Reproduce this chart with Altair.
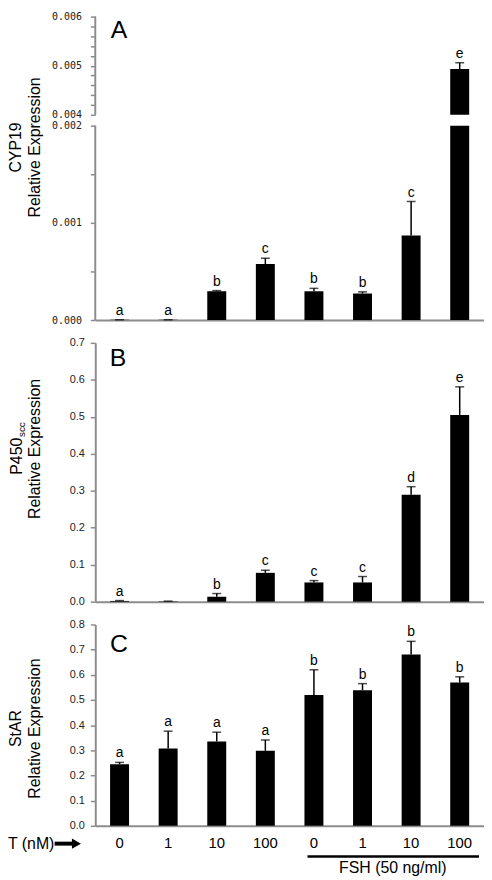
import altair as alt
import pandas as pd

# ---------------- data ----------------
treat_labels = ["0", "1", "10", "100", "0", "1", "10", "100"]

cyp19 = [0.000003, 0.000003, 0.000295, 0.000576, 0.000296, 0.000273, 0.000870, 0.004930]
cyp19_err = [0.0, 0.0, 0.000008, 0.000060, 0.000030, 0.000017, 0.000350, 0.000130]
cyp19_sig = ["a", "a", "b", "c", "b", "b", "c", "e"]

p450 = [0.002, 0.001, 0.013, 0.078, 0.052, 0.052, 0.289, 0.505]
p450_err = [0.001, 0.0005, 0.009, 0.007, 0.005, 0.016, 0.022, 0.076]
p450_sig = ["a", "", "b", "c", "c", "c", "d", "e"]

star = [0.245, 0.307, 0.335, 0.298, 0.520, 0.539, 0.681, 0.569]
star_err = [0.007, 0.069, 0.037, 0.043, 0.100, 0.026, 0.052, 0.023]
star_sig = ["a", "a", "a", "a", "b", "b", "b", "b"]

# broken axis of panel A: lower segment 0-0.002, upper segment 0.004-0.006
a_breaks = [0.0, 0.002, 0.004, 0.006]
a_ticks = [0.0, 0.0005, 0.001, 0.0015, 0.002] + [round(0.004 + 0.0002 * k, 4) for k in range(11)]
b_ticks = [round(0.1 * k, 1) for k in range(8)]
c_ticks = [round(0.1 * k, 1) for k in range(9)]

# ---------------- style ----------------
GRAY = "#8c8c8c"
FONT = "Liberation Sans"
W = 392
H_A, H_B, H_C = 306, 261, 203
A_RANGE = [H_A, 110, 99, 0]

xscale = alt.Scale(paddingInner=0.61, paddingOuter=0.305)
label_expr = "[" + ",".join("'%s'" % s for s in treat_labels) + "][datum.value]"
a_label_expr = ("abs(datum.value*1000 - round(datum.value*1000)) < 0.01 ? "
                "format(datum.value, '.3f') : ''")


def make_df(vals, errs, sigs):
    return pd.DataFrame({"idx": list(range(len(vals))), "val": vals,
                         "err": errs, "sig": sigs})


def one():
    return pd.DataFrame({"k": [0]})


def txt(text, x, y, size, angle=0, align="center", baseline="middle", font=FONT):
    return alt.Chart(pd.DataFrame({"t": [text]})).mark_text(
        font=font, fontSize=size, angle=angle, align=align, baseline=baseline,
        color="black").encode(text="t:N", x=alt.value(x), y=alt.value(y))


def bar_layers(df, yscale, yaxis, xaxis):
    base = alt.Chart(df).transform_calculate(hi="datum.val + datum.err")
    x = alt.X("idx:O", scale=xscale, axis=xaxis, title=None)
    y = alt.Y("val:Q", scale=yscale, axis=yaxis, title=None)
    yhi = alt.Y("hi:Q", scale=yscale, axis=yaxis, title=None)
    bars = base.mark_bar(color="black").encode(x=x, y=y)
    rule = base.mark_rule(color="black", strokeWidth=1.5).encode(
        x=x, y=y, y2=alt.Y2("hi:Q"))
    cap = base.mark_tick(color="black", thickness=1.5, size=9).encode(x=x, y=yhi)
    lab = base.mark_text(font=FONT, fontSize=14, baseline="alphabetic", dy=-5,
                         color="black").encode(x=x, y=yhi, text="sig:N")
    return [bars, rule, cap, lab]


no_x = alt.Axis(labels=False, ticks=False, title=None, domainColor=GRAY, domainWidth=2)

# ---------------- panel A (broken axis) ----------------
dfa = make_df(cyp19, cyp19_err, cyp19_sig)
a_scale = alt.Scale(domain=a_breaks, range=A_RANGE, nice=False, zero=False)
a_axis = alt.Axis(values=a_ticks, title=None, labelFont="DejaVu Sans Mono",
                  labelFontSize=10, labelPadding=9, labelExpr=a_label_expr,
                  grid=False, domain=False)

a_bars = bar_layers(dfa, a_scale, a_axis, no_x)
# white gap that breaks the tall bar
gap = alt.Chart(one()).mark_rect(color="white").encode(
    x=alt.value(2), x2=alt.value(W),
    y=alt.Y(datum=a_breaks[1], type="quantitative", scale=a_scale, axis=a_axis, title=None),
    y2=alt.datum(a_breaks[2]))
seg_low = alt.Chart(one()).mark_rule(color=GRAY, strokeWidth=2).encode(
    x=alt.value(0),
    y=alt.Y(datum=a_breaks[0], type="quantitative", scale=a_scale, axis=a_axis, title=None),
    y2=alt.datum(a_breaks[1]))
seg_high = alt.Chart(one()).mark_rule(color=GRAY, strokeWidth=2).encode(
    x=alt.value(0),
    y=alt.Y(datum=a_breaks[2], type="quantitative", scale=a_scale, axis=a_axis, title=None),
    y2=alt.datum(a_breaks[3]))

panelA = alt.layer(
    *a_bars, gap, seg_low, seg_high,
    txt("A", 24, 14, 25),
    txt("CYP19", -80, 132, 16, angle=270),
    txt("Relative Expression", -61, 132, 16, angle=270),
).properties(width=W, height=H_A)

# ---------------- panel B ----------------
dfb = make_df(p450, p450_err, p450_sig)
bc_axis = dict(title=None, labelFont=FONT, labelFontSize=11, labelPadding=6,
               format=".1f", grid=False)
panelB = alt.layer(
    *bar_layers(dfb, alt.Scale(domain=[0, 0.7], nice=False),
                alt.Axis(values=b_ticks, **bc_axis), no_x),
    txt("B", 23, 15, 25),
    txt("P450", -74, 133, 16, angle=270, align="left", baseline="alphabetic"),
    txt("scc", -71, 95, 10, angle=270, align="left", baseline="alphabetic"),
    txt("Relative Expression", -61, 107, 16, angle=270),
).properties(width=W, height=H_B)

# ---------------- panel C ----------------
dfc = make_df(star, star_err, star_sig)
c_xaxis = alt.Axis(ticks=False, title=None, domainColor=GRAY, domainWidth=2,
                   labelExpr=label_expr, labelAngle=0, labelFont=FONT,
                   labelFontSize=15, labelPadding=10, labelColor="black")

arrow_shaft = alt.Chart(one()).mark_rule(color="black", strokeWidth=4).encode(
    x=alt.value(-41), x2=alt.value(-22), y=alt.value(H_C + 18))
arrow_head = alt.Chart(one()).mark_point(
    shape="triangle-right", filled=True, color="black", size=110, opacity=1).encode(
    x=alt.value(-19), y=alt.value(H_C + 18))
fsh_line = alt.Chart(one()).mark_rule(color="black", strokeWidth=2.5).encode(
    x=alt.value(214), x2=alt.value(387), y=alt.value(H_C + 31))

panelC = alt.layer(
    *bar_layers(dfc, alt.Scale(domain=[0, 0.8], nice=False),
                alt.Axis(values=c_ticks, **bc_axis), c_xaxis),
    txt("C", 24, 20, 25),
    txt("StAR", -80, 105, 16, angle=270),
    txt("Relative Expression", -61, 105, 16, angle=270),
    txt("T (nM)", -88, H_C + 18, 16, align="left"),
    arrow_shaft, arrow_head, fsh_line,
    txt("FSH (50 ng/ml)", 300, H_C + 43, 16),
).properties(width=W, height=H_C)

chart = alt.vconcat(panelA, panelB, panelC, spacing=23, bounds="flush").properties(
    padding={"left": 0, "top": 0, "right": 0, "bottom": 0}
).configure_view(stroke=None).configure_axis(
    domainColor=GRAY, domainWidth=2, tickColor=GRAY, tickWidth=1.5, tickSize=5,
    labelColor="#222222", grid=False
)

chart.save("out.html", embed_options={"renderer": "svg", "actions": False})
